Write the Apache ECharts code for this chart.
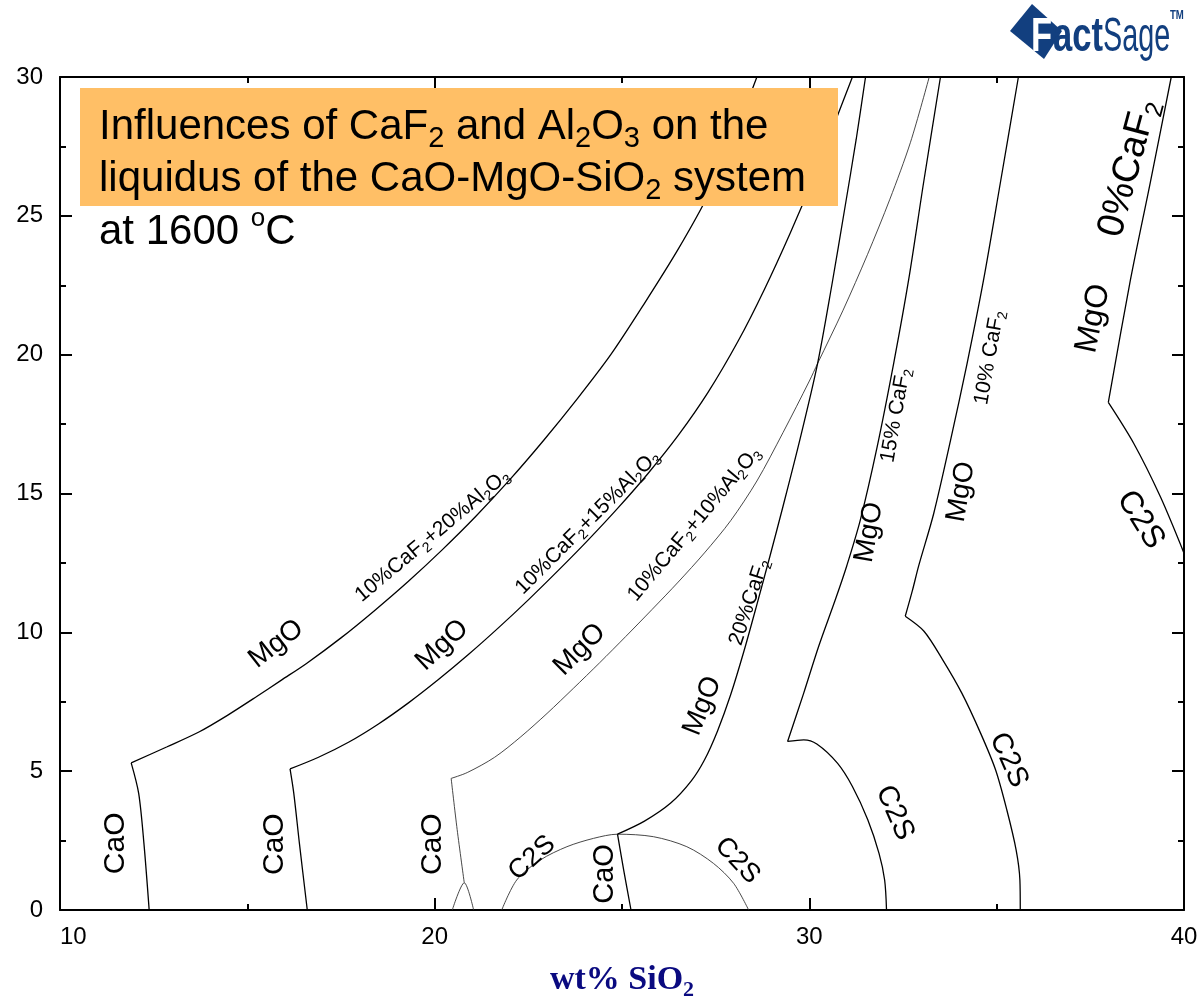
<!DOCTYPE html>
<html>
<head>
<meta charset="utf-8">
<title>CaO-MgO-SiO2 liquidus at 1600 C</title>
<script src="https://cdn.jsdelivr.net/npm/echarts@6/dist/echarts.min.js"></script>
<style>
  html, body { margin: 0; padding: 0; background: #fff; }
  #main { width: 1203px; height: 997px; }
</style>
</head>
<body>
<div id="main"></div>
<script>
// liquidus boundaries, points are [wt% SiO2, wt% MgO]

// 10% CaF2 + 20% Al2O3
const a20CaO = [[12.38, 0], [12.24, 2.4], [12.1, 4.2], [11.9, 5.3]];
const a20MgO = [[11.9, 5.3], [12.86, 5.88], [13.72, 6.42], [14.48, 7.02], [15.24, 7.68], [15.91, 8.28],
  [16.58, 8.88], [17.5, 9.8], [18.4, 10.79], [19.3, 11.84], [20.2, 12.97], [21.1, 14.18], [22.0, 15.49],
  [22.9, 16.9], [23.8, 18.4], [24.7, 20.0], [25.6, 21.85], [26.5, 23.8], [27.3, 25.75], [28.0, 27.9],
  [28.6, 30]];

// 10% CaF2 + 15% Al2O3
const a15CaO = [[16.6, 0], [16.39, 2.4], [16.24, 4.2], [16.14, 5.08]];
const a15MgO = [[16.14, 5.08], [16.9, 5.5], [17.7, 6.04], [18.5, 6.7], [19.3, 7.46], [20.1, 8.3],
  [20.9, 9.2], [21.7, 10.16], [22.5, 11.17], [23.3, 12.23], [24.1, 13.33], [24.9, 14.49], [25.7, 15.73],
  [26.5, 17.09], [27.3, 18.65], [28.1, 20.49], [28.8, 22.35], [29.5, 24.41], [30.1, 26.33],
  [30.65, 28.25], [31.15, 30]];

// 10% CaF2 + 10% Al2O3
const a10CaO = [[20.44, 4.74], [20.6, 2.9], [20.79, 0.98]];
const a10Feet = [[20.47, 0], [20.79, 0.98], [21.04, 0]];
const a10MgO = [[20.44, 4.74], [20.87, 4.95], [21.6, 5.5], [22.3, 6.24], [23.0, 7.08], [23.7, 7.98],
  [24.4, 8.9], [25.1, 9.85], [25.8, 10.82], [26.5, 11.81], [27.2, 12.86], [27.9, 14.02], [28.6, 15.45],
  [29.3, 17.2], [30.0, 19.05], [30.22, 19.68], [30.9, 21.6], [31.55, 23.6], [32.15, 25.6], [32.7, 27.65],
  [33.2, 30]];

// 20% CaF2
const c20Dome = [[21.79, 0], [22.19, 1.08], [22.82, 1.8], [23.53, 2.28], [24.24, 2.58], [24.88, 2.73],
  [25.84, 2.64], [26.73, 2.28], [27.44, 1.68], [27.98, 0.96], [28.38, 0]];
const c20CaO = [[24.88, 2.73], [25.05, 1.4], [25.24, 0]];
const c20MgO = [[24.88, 2.73], [25.6, 3.2], [26.3, 3.85], [26.85, 4.65], [27.2, 5.4], [27.55, 6.45],
  [27.9, 7.75], [28.25, 9.3], [28.6, 11.0], [28.95, 12.75], [29.3, 14.55], [29.75, 16.95], [30.22, 19.68],
  [30.6, 22.5], [30.95, 25.3], [31.25, 27.75], [31.5, 30]];

// 15% CaF2
const c15MgO = [[29.42, 6.07], [29.85, 7.81], [30.25, 9.5], [30.7, 11.2], [31.0, 12.4], [31.36, 14.04],
  [31.81, 16.68], [32.25, 19.68], [32.65, 22.69], [33.05, 26.2], [33.5, 30]];
const c15C2S = [[29.42, 6.07], [29.85, 6.13], [30.2, 5.98], [30.75, 5.29], [31.15, 4.45], [31.56, 3.25],
  [31.86, 2.04], [32.01, 1.08], [32.06, 0]];

// 10% CaF2
const c10MgO = [[32.56, 10.58], [32.75, 11.5], [32.92, 12.4], [33.32, 14.28], [33.77, 16.92],
  [34.21, 19.68], [34.65, 22.69], [35.1, 26.2], [35.58, 30]];
const c10C2S = [[32.56, 10.58], [33.06, 10.04], [33.56, 9.01], [34.07, 7.81], [34.57, 6.37],
  [34.97, 5.05], [35.27, 3.61], [35.52, 2.16], [35.62, 1.08], [35.63, 0]];

// 0% CaF2
const c0MgO = [[37.98, 18.28], [38.57, 22.69], [39.1, 26.2], [39.66, 30]];
const c0C2S = [[37.98, 18.28], [38.66, 16.8], [39.37, 14.88], [40, 12.85]];

// field labels: text (_n = subscript), wt% SiO2, wt% MgO
const fieldLabels = [
  ['CaO', 11.48, 2.4], ['CaO', 15.72, 2.37], ['CaO', 19.95, 2.37], ['CaO', 24.55, 1.3],
  ['C2S', 22.6, 1.87], ['C2S', 28.08, 1.78], ['C2S', 32.28, 3.5], ['C2S', 35.32, 5.4], ['C2S', 38.84, 14.05],
  ['MgO', 15.77, 9.58], ['MgO', 20.2, 9.54], ['MgO', 23.87, 9.38], ['MgO', 27.15, 7.35],
  ['MgO', 31.6, 13.6], ['MgO', 34.05, 15.06], ['MgO', 37.58, 21.3],
  ['0%CaF_2', 38.52, 26.72],
  ['10%CaF_2+20%Al_2O_3', 19.94, 13.48], ['10%CaF_2+15%Al_2O_3', 24.08, 13.96],
  ['10%CaF_2+10%Al_2O_3', 26.93, 13.9], ['20%CaF_2', 28.4, 11.09],
  ['15% CaF_2', 32.31, 17.82], ['10% CaF_2', 34.81, 19.9]
];

const xRange = [10, 40];
const yRange = [0, 30];

// ---- styling ----
const FONT = '"Liberation Sans", Arial, sans-serif';
const labelRotate = [90, 90, 90, 90, 42, -47, -66, -66, -58, 38, 43, 45, 68, 80, 80, 78, 75, 40, 45, 50, 72, 80, 80];
const labelSize = [30, 30, 30, 29, 27, 27, 29, 29, 32, 28, 28, 28, 28, 28, 28, 32, 38, 21, 21, 21, 21, 21, 21];

const boundaries = [
  { data: a20CaO }, { data: a20MgO },
  { data: a15CaO }, { data: a15MgO },
  { data: a10CaO, thin: true }, { data: a10Feet, thin: true }, { data: a10MgO, thin: true },
  { data: c20Dome, thin: true }, { data: c20CaO }, { data: c20MgO },
  { data: c15MgO }, { data: c15C2S },
  { data: c10MgO }, { data: c10C2S },
  { data: c0MgO }, { data: c0C2S }
];

function chemRich(str) {
  return str.split(/_(\d)/).map((p, i) => {
    if (p === '') return '';
    return i % 2 ? '{s|' + p + '}' : '{m|' + p + '}';
  }).join('');
}

function richFor(size, color, family, weight) {
  return {
    m: { fontSize: size, lineHeight: Math.round(size * 1.24), fontFamily: family || FONT,
      fontWeight: weight || 'normal', color: color || '#000', verticalAlign: 'middle' },
    s: { fontSize: Math.round(size * 0.66), lineHeight: Math.round(size * 0.6), fontFamily: family || FONT,
      fontWeight: weight || 'normal', color: color || '#000', verticalAlign: 'bottom' },
    o: { fontSize: Math.round(size * 0.62), lineHeight: Math.round(size * 0.55), fontFamily: family || FONT,
      color: color || '#000', verticalAlign: 'top' }
  };
}

function frameAxis(position, range, interval, showLabel) {
  return {
    type: 'value',
    position: position,
    min: range[0],
    max: range[1],
    interval: interval,
    axisLine: { show: true, onZero: false, lineStyle: { color: '#000', width: 2 } },
    axisTick: { show: true, inside: true, length: 12, lineStyle: { color: '#000', width: 2 } },
    minorTick: { show: true, splitNumber: 2, length: 6, lineStyle: { color: '#000', width: 2 } },
    splitLine: { show: false },
    axisLabel: {
      show: showLabel,
      color: '#000',
      fontSize: 24,
      fontFamily: FONT,
      margin: position === 'bottom' ? 15 : 17,
      alignMinLabel: position === 'bottom' ? 'left' : null
    }
  };
}

const xBottom = frameAxis('bottom', xRange, 10, true);
xBottom.name = '{m|wt% SiO}{s|2}';
xBottom.nameLocation = 'middle';
xBottom.nameGap = 49;
xBottom.nameTextStyle = { rich: richFor(34, '#0a0a80', '"Liberation Serif", "Times New Roman", serif', 'bold') };

const lineSeries = boundaries.map(b => ({
  type: 'line',
  data: b.data,
  xAxisIndex: 0,
  yAxisIndex: 0,
  showSymbol: false,
  symbol: 'none',
  smooth: 0.3,
  silent: true,
  lineStyle: { color: b.thin ? '#333' : '#000', width: b.thin ? 0.9 : 1.3 }
}));

const labelSeries = {
  type: 'scatter',
  xAxisIndex: 0,
  yAxisIndex: 0,
  symbolSize: 1,
  silent: true,
  itemStyle: { color: 'rgba(0,0,0,0)', opacity: 1 },
  label: { show: true, position: 'inside', align: 'center', verticalAlign: 'middle', color: '#000', opacity: 1 },
  data: fieldLabels.map((l, i) => ({
    value: [l[1], l[2]],
    label: { formatter: chemRich(l[0]), rotate: labelRotate[i], rich: richFor(labelSize[i]) }
  })),
  z: 5
};

const titleRich = richFor(42);
titleRich.m.lineHeight = 52;
titleRich.s.fontSize = 29;
titleRich.s.lineHeight = 22;
titleRich.o.fontSize = 26;
titleRich.o.lineHeight = 24;

const logoBlue = '#123f7f';

const chart = echarts.init(document.getElementById('main'));
chart.setOption({
  animation: false,
  backgroundColor: '#fff',
  grid: { left: 60, right: 19, top: 77, bottom: 87, containLabel: false, outerBoundsMode: 'none' },
  xAxis: [xBottom, frameAxis('top', xRange, 10, false)],
  yAxis: [frameAxis('left', yRange, 5, true), frameAxis('right', yRange, 5, false)],
  series: lineSeries.concat([labelSeries]),
  graphic: [
    { type: 'rect', z: 100, shape: { x: 80, y: 88, width: 758, height: 118 }, style: { fill: '#ffbf66' } },
    {
      type: 'text', z: 101, x: 99, y: 101,
      style: {
        text: chemRich('Influences of CaF_2 and Al_2O_3 on the\nliquidus of the CaO-MgO-SiO_2 system'),
        rich: titleRich, align: 'left', verticalAlign: 'top'
      }
    },
    {
      type: 'text', z: 101, x: 99, y: 206,
      style: { text: '{m|at 1600 }{o|o}{m|C}', rich: titleRich, align: 'left', verticalAlign: 'top' }
    },
    // FactSage logo
    { type: 'polygon', z: 100, shape: { points: [[1032, 4], [1010, 31], [1044, 59], [1062, 31]] }, style: { fill: logoBlue } },
    {
      type: 'text', z: 101, x: 1031, y: 38, scaleX: 0.72,
      style: { text: 'F', fill: '#fff', font: 'bold 48px ' + FONT, align: 'left', verticalAlign: 'middle' }
    },
    {
      type: 'text', z: 101, x: 1053, y: 38, scaleX: 0.72,
      style: { text: 'act', fill: logoBlue, font: 'bold 48px ' + FONT, align: 'left', verticalAlign: 'middle' }
    },
    {
      type: 'text', z: 101, x: 1103, y: 38, scaleX: 0.6,
      style: { text: 'Sage', fill: logoBlue, font: '48px ' + FONT, align: 'left', verticalAlign: 'middle' }
    },
    {
      type: 'text', z: 101, x: 1170, y: 16, scaleX: 0.8,
      style: { text: 'TM', fill: logoBlue, font: 'bold 12px ' + FONT, align: 'left', verticalAlign: 'middle' }
    }
  ]
});
</script>
</body>
</html>
